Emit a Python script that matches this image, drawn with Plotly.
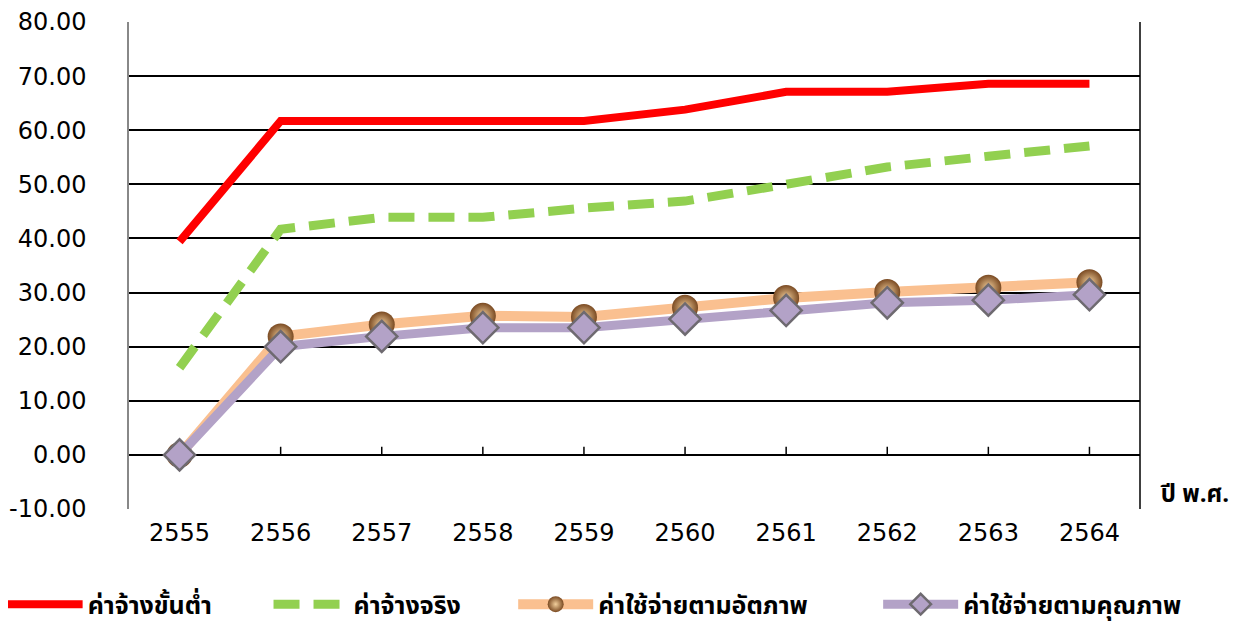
import plotly.graph_objects as go

years = ["2555", "2556", "2557", "2558", "2559", "2560", "2561", "2562", "2563", "2564"]
min_wage = [39.4, 61.7, 61.7, 61.7, 61.7, 63.8, 67.1, 67.1, 68.6, 68.6]
actual_wage = [16.1, 41.7, 43.9, 43.9, 45.6, 46.9, 50.0, 53.2, 55.2, 57.1]
cost_basic = [0.0, 21.9, 24.1, 25.7, 25.5, 27.2, 29.0, 30.1, 30.9, 31.9]
cost_quality = [0.0, 20.0, 21.9, 23.5, 23.5, 25.1, 26.7, 28.1, 28.6, 29.6]
names = ["ค่าจ้างขั้นต่ำ", "ค่าจ้างจริง", "ค่าใช้จ่ายตามอัตภาพ", "ค่าใช้จ่ายตามคุณภาพ"]
y_ticks = [-10, 0, 10, 20, 30, 40, 50, 60, 70, 80]
y_ticktext = [f"{v:.2f}" for v in y_ticks]

FONT = "DejaVu Sans"
THAI = "Noto Sans Thai, Tahoma, DejaVu Sans, sans-serif"

fig = go.Figure()
fig.add_trace(go.Scatter(x=years, y=min_wage, name=names[0], mode="lines", legend="legend",
                         line=dict(color="#ff0000", width=8)))
fig.add_trace(go.Scatter(x=years, y=actual_wage, name=names[1], mode="lines", legend="legend2",
                         line=dict(color="#92d050", width=9, dash="26px,14px")))
fig.add_trace(go.Scatter(x=years, y=cost_basic, name=names[2], mode="lines+markers",
                         legend="legend3",
                         line=dict(color="#fac090", width=10),
                         marker=dict(symbol="circle", size=26, color="#7a4a22",
                                     gradient=dict(type="radial", color="#f2cf9c"),
                                     line=dict(width=0))))
fig.add_trace(go.Scatter(x=years, y=cost_quality, name=names[3], mode="lines+markers",
                         legend="legend4",
                         line=dict(color="#b3a2c7", width=9),
                         marker=dict(symbol="diamond", size=24, color="#b3a2c7",
                                     line=dict(color="#6e6a70", width=2.5))))

# small tick marks on the zero line at each category
for i, yr in enumerate(years):
    fig.add_shape(type="line", xref="x", yref="y", x0=i, x1=i, y0=0, y1=1.5,
                  line=dict(color="black", width=1.5), layer="below")
# right border
fig.add_shape(type="line", xref="paper", yref="paper", x0=1, x1=1, y0=0, y1=1,
              line=dict(color="black", width=1.5))

fig.add_annotation(text="<b>ปี พ.ศ.</b>", xref="paper", yref="y", x=1.018, y=-7.4,
                   xanchor="left", yanchor="middle", showarrow=False,
                   font=dict(family=THAI, size=24, color="black"))

leg_common = dict(orientation="h", y=-0.196, yanchor="middle", xanchor="left",
                  font=dict(family=THAI, size=25, color="black", weight="bold"),
                  itemwidth=75, bgcolor="rgba(0,0,0,0)", borderwidth=0)

fig.update_layout(
    width=1234, height=620,
    margin=dict(l=121, r=102, t=14, b=119, autoexpand=False),
    plot_bgcolor="white", paper_bgcolor="white",
    font=dict(family=FONT, size=24, color="black"),
    showlegend=True,
    legend=dict(x=-0.125, **leg_common),
    legend2=dict(x=0.138, **leg_common),
    legend3=dict(x=0.380, **leg_common),
    legend4=dict(x=0.741, **leg_common),
    xaxis=dict(type="category", range=[-0.5, 9.5], showgrid=False, ticks="",
               showline=False, zeroline=False, automargin=False,
               ticklabelstandoff=7, tickfont=dict(size=24)),
    yaxis=dict(range=[-10, 80], tickvals=y_ticks, ticktext=y_ticktext,
               showgrid=True, gridcolor="black", gridwidth=1.5,
               zeroline=True, zerolinecolor="black", zerolinewidth=1.5,
               showline=True, linecolor="#888888", linewidth=1.5,
               ticks="", automargin=False, ticklabelstandoff=36,
               tickfont=dict(size=24)),
)

fig.write_html("out.html")
